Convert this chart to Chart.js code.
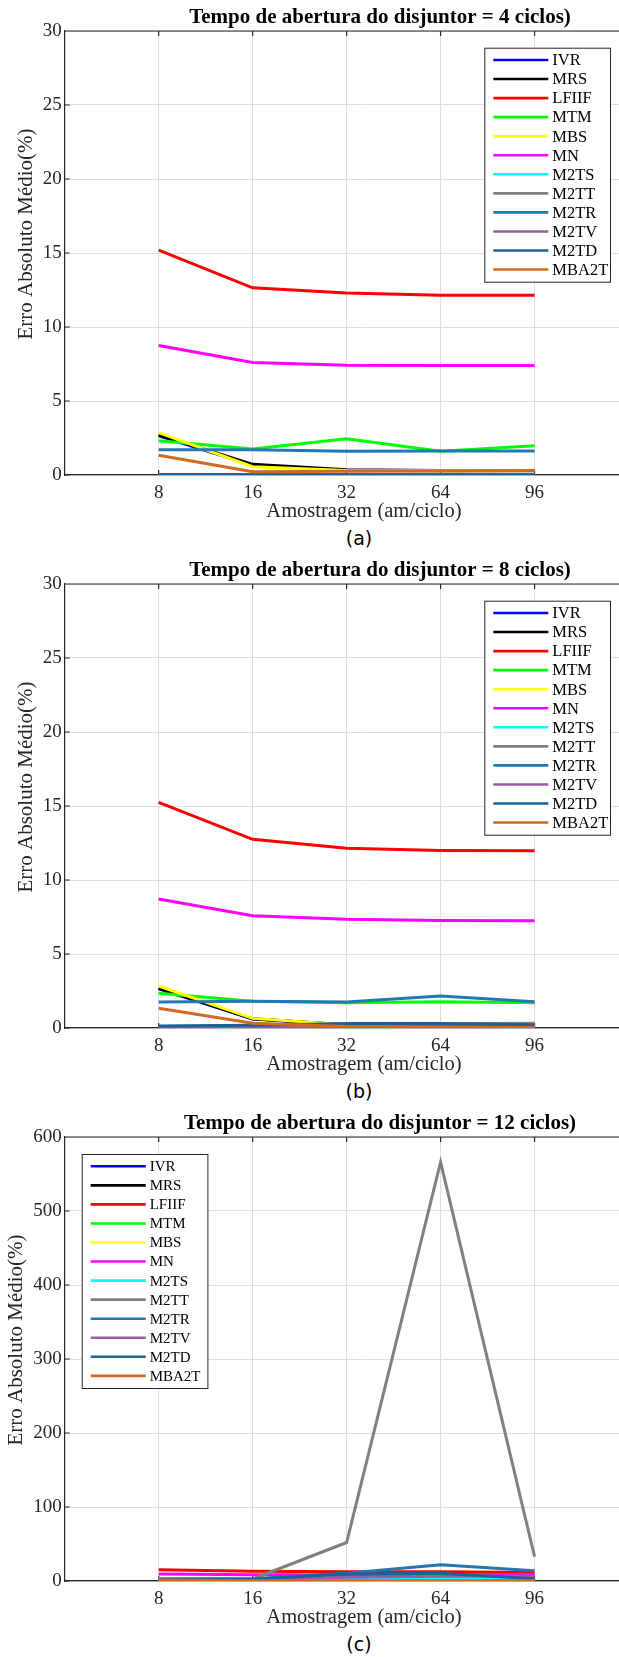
<!DOCTYPE html>
<html>
<head>
<meta charset="utf-8">
<script src="https://cdn.jsdelivr.net/npm/chart.js@4.4.1/dist/chart.umd.min.js"></script>
<style>
  html, body { margin: 0; padding: 0; background: #fff; overflow: hidden; }
  .panel { position: relative; width: 619px; height: 553px; overflow: hidden; }
  .panel canvas { position: absolute; left: 0; top: 0; }
  .cap { position: absolute; left: 329px; width: 60px; top: 526px; text-align: center;
         font: 19px 'DejaVu Sans', sans-serif; line-height: 24px; color: #000; }
</style>
</head>
<body>
<div class="panel"><canvas id="chartA" width="680" height="525"></canvas><div class="cap">(a)</div></div>
<div class="panel"><canvas id="chartB" width="680" height="525"></canvas><div class="cap">(b)</div></div>
<div class="panel"><canvas id="chartC" width="680" height="525"></canvas><div class="cap">(c)</div></div>
<script>
// amostragem (am/ciclo)
const xLabels = ['8', '16', '32', '64', '96'];
const methods = ['IVR', 'MRS', 'LFIIF', 'MTM', 'MBS', 'MN', 'M2TS', 'M2TT', 'M2TR', 'M2TV', 'M2TD', 'MBA2T'];
const colors = ['#0000ff', '#000000', '#ff0000', '#00ff00', '#ffff00', '#ff00ff',
                '#00ffff', '#808080', '#2079b4', '#9a5aa4', '#1c6197', '#d2691e'];

// erro absoluto medio (%), one row per method, same order as methods
const erro4ciclos = [
  [2.65, 0.65, 0.32, 0.28, 0.28],
  [2.72, 0.72, 0.35, 0.30, 0.30],
  [15.2, 12.65, 12.3, 12.15, 12.15],
  [2.32, 1.76, 2.45, 1.60, 1.98],
  [2.86, 0.56, 0.30, 0.28, 0.28],
  [8.75, 7.60, 7.42, 7.40, 7.40],
  [0.02, 0.02, 0.02, 0.02, 0.02],
  [0.02, 0.02, 0.02, 0.02, 0.02],
  [1.71, 1.71, 1.60, 1.62, 1.62],
  [0.01, 0.01, 0.01, 0.01, 0.01],
  [0.01, 0.01, 0.01, 0.01, 0.01],
  [1.33, 0.22, 0.25, 0.27, 0.30]
];
const erro8ciclos = [
  [2.65, 0.60, 0.20, 0.10, 0.05],
  [2.70, 0.62, 0.22, 0.10, 0.05],
  [15.25, 12.75, 12.15, 12.0, 11.98],
  [2.34, 1.80, 1.71, 1.78, 1.70],
  [2.84, 0.65, 0.22, 0.12, 0.05],
  [8.72, 7.59, 7.34, 7.27, 7.25],
  [0.10, 0.15, 0.20, 0.20, 0.20],
  [0.05, 0.10, 0.25, 0.28, 0.32],
  [1.76, 1.80, 1.76, 2.16, 1.78],
  [0.02, 0.05, 0.10, 0.12, 0.15],
  [0.13, 0.18, 0.30, 0.30, 0.22],
  [1.33, 0.32, 0.10, 0.04, 0.03]
];
const erro12ciclos = [
  [2.7, 1.0, 0.5, 0.4, 0.4],
  [2.7, 0.9, 0.5, 0.4, 0.4],
  [15.2, 13.3, 12.5, 12.4, 11.6],
  [3.3, 2.8, 2.6, 2.4, 2.4],
  [2.8, 0.6, 0.3, 0.2, 0.2],
  [9.3, 8.5, 8.5, 8.6, 8.9],
  [2.0, 2.5, 3.0, 3.0, 3.0],
  [3.0, 2.8, 52, 566, 33],
  [2.0, 3.0, 10.5, 21.8, 14.0],
  [1.0, 2.0, 5.0, 6.3, 6.3],
  [1.5, 2.5, 9.5, 10.5, 3.0],
  [1.3, 0.3, 0.3, 0.3, 0.3]
];

const serif = "'Liberation Serif', 'Times New Roman', serif";
const axisColor = '#262626';
const gridColor = '#dedede';

const matlabAxes = {
  id: 'matlabAxes',
  beforeDatasetsDraw(chart, args, opts) {
    const {ctx, chartArea: a, scales: {x, y}} = chart;
    ctx.save();
    ctx.strokeStyle = axisColor;
    ctx.lineWidth = 1.2;
    ctx.beginPath();
    ctx.moveTo(a.left, a.top);
    ctx.lineTo(a.right, a.top);
    x.ticks.forEach(t => {
      const px = x.getPixelForValue(t.value);
      ctx.moveTo(px, a.bottom); ctx.lineTo(px, a.bottom - 5);
      ctx.moveTo(px, a.top); ctx.lineTo(px, a.top + 5);
    });
    y.ticks.forEach(t => {
      const py = y.getPixelForValue(t.value);
      ctx.moveTo(a.left, py); ctx.lineTo(a.left + 5, py);
    });
    ctx.stroke();
    ctx.restore();
  },
  afterDraw(chart, args, opts) {
    const ctx = chart.ctx;
    ctx.save();
    // title
    ctx.fillStyle = '#000';
    ctx.font = 'bold 21px ' + serif;
    ctx.textAlign = 'center';
    ctx.textBaseline = 'middle';
    ctx.fillText(opts.title, 380, 18);
    // y label
    ctx.save();
    ctx.translate(opts.yLabelX, 234);
    ctx.rotate(-Math.PI / 2);
    ctx.fillStyle = axisColor;
    ctx.font = '21px ' + serif;
    ctx.fillText('Erro Absoluto Médio(%)', 0, 0);
    ctx.restore();
    // legend
    const lg = opts.legend;
    ctx.fillStyle = '#fff';
    ctx.fillRect(lg.x, lg.y, 125.7, 234);
    ctx.strokeStyle = axisColor;
    ctx.lineWidth = 1;
    ctx.strokeRect(lg.x + 0.5, lg.y + 0.5, 125.7, 234);
    ctx.font = lg.size + 'px ' + serif;
    ctx.textAlign = 'left';
    chart.data.datasets.forEach((ds, i) => {
      const yy = lg.y + 12.3 + i * 19.05;
      ctx.strokeStyle = ds.borderColor;
      ctx.lineWidth = 2.6;
      ctx.beginPath();
      ctx.moveTo(lg.x + 9, yy);
      ctx.lineTo(lg.x + 64, yy);
      ctx.stroke();
      ctx.fillStyle = '#000';
      ctx.fillText(ds.label, lg.x + 68, yy + 1);
    });
    ctx.restore();
  }
};

function makeChart(id, rows, yMax, yStep, title, legend, yLabelX) {
  const datasets = methods.map((m, i) => ({
    label: m,
    data: rows[i].map((v, j) => ({x: j + 1, y: v})),
    borderColor: colors[i],
    backgroundColor: colors[i],
    borderWidth: 3,
    pointRadius: 0,
    tension: 0,
    order: methods.length - i
  }));
  return new Chart(document.getElementById(id), {
    type: 'line',
    data: {datasets: datasets},
    plugins: [matlabAxes],
    options: {
      responsive: false,
      animation: false,
      layout: {padding: {left: 0, right: 16.7, top: 31, bottom: 0}},
      plugins: {
        legend: {display: false},
        tooltip: {enabled: false},
        matlabAxes: {title: title, legend: legend, yLabelX: yLabelX}
      },
      scales: {
        x: {
          type: 'linear', min: 0, max: 6.37,
          afterBuildTicks: s => { s.ticks = xLabels.map((l, i) => ({value: i + 1})); },
          afterFit: s => { s.height = 50; },
          ticks: {
            callback: v => xLabels[v - 1],
            font: {family: serif, size: 19}, color: axisColor,
            padding: 6.5, maxRotation: 0, autoSkip: false
          },
          grid: {color: gridColor, drawTicks: false},
          border: {color: axisColor, width: 1.2},
          title: {
            display: true, text: 'Amostragem (am/ciclo)', color: axisColor,
            font: {family: serif, size: 20.5}, padding: {top: 0, bottom: 1}
          }
        },
        y: {
          min: 0, max: yMax,
          afterFit: s => { s.width = 64.7; },
          ticks: {stepSize: yStep, font: {family: serif, size: 19}, color: axisColor, padding: 3},
          grid: {color: gridColor, drawTicks: false},
          border: {color: axisColor, width: 1.2}
        }
      }
    }
  });
}

makeChart('chartA', erro4ciclos, 30, 5, 'Tempo de abertura do disjuntor = 4 ciclos)', {x: 484.3, y: 47.7, size: 16.5}, 26.5);
makeChart('chartB', erro8ciclos, 30, 5, 'Tempo de abertura do disjuntor = 8 ciclos)', {x: 484.3, y: 47.7, size: 16.5}, 26.5);
makeChart('chartC', erro12ciclos, 600, 100, 'Tempo de abertura do disjuntor = 12 ciclos)', {x: 81.7, y: 48, size: 15}, 16);
</script>
</body>
</html>
